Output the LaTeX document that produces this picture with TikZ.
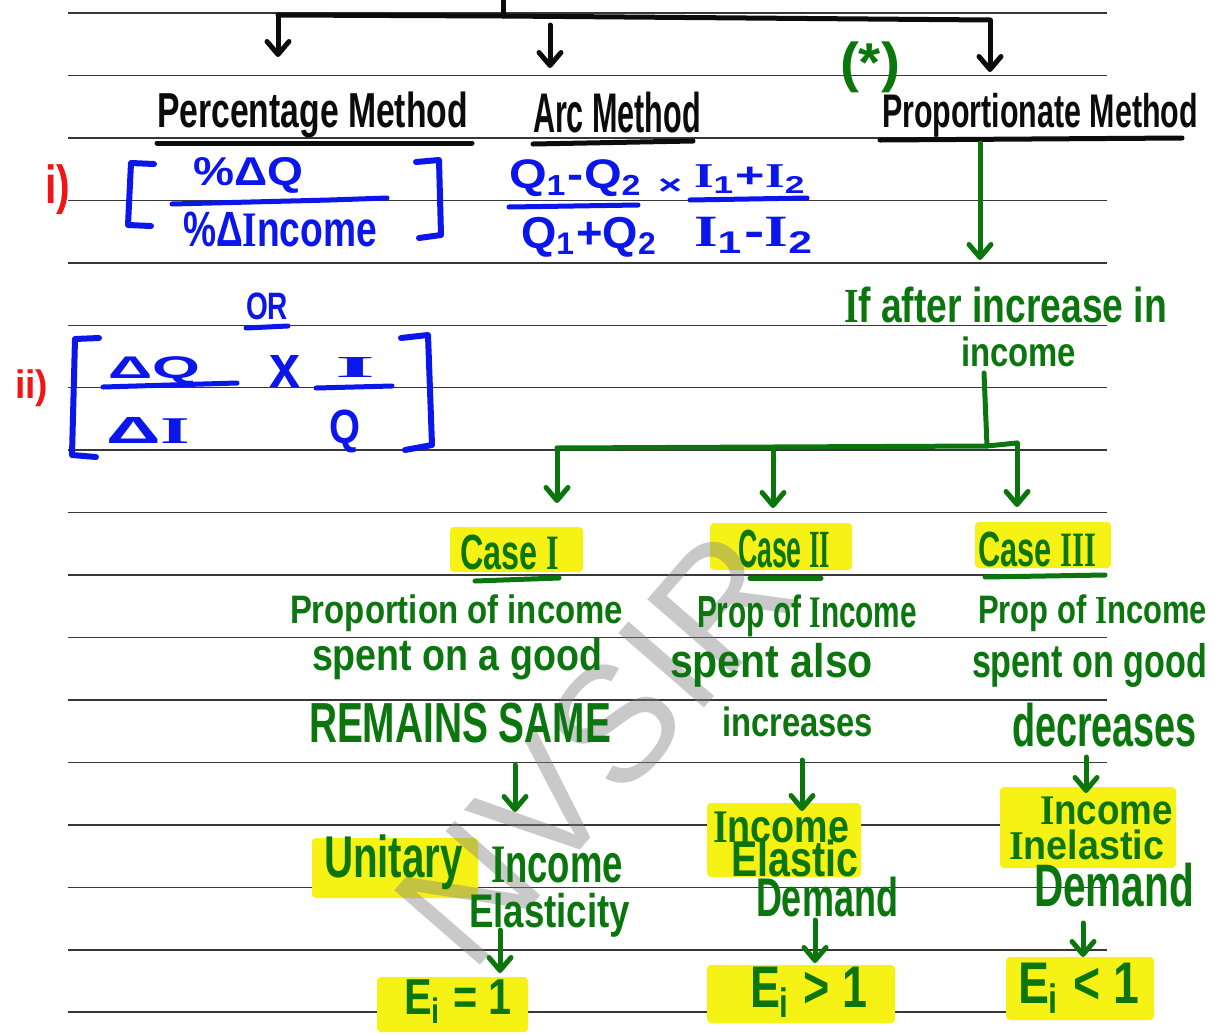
\documentclass[tikz,border=0pt]{standalone}
\usepackage{fontspec}
\usepackage{graphicx}
\usetikzlibrary{arrows.meta}
\newfontfamily\handfont{Liberation Sans}
\newfontfamily\barfont{Liberation Serif}
\newfontfamily\wmfont{Liberation Sans}
\definecolor{ink}{RGB}{12,12,12}
\definecolor{penblue}{RGB}{10,22,235}
\definecolor{pengreen}{RGB}{12,118,14}
\definecolor{penred}{RGB}{240,22,22}
\definecolor{hl}{RGB}{246,242,22}
\definecolor{rulegray}{RGB}{55,55,55}
% handwritten label squeezed into a w x h box (pt)
\newcommand\hw[3]{\resizebox*{#1pt}{#2pt}{\handfont\bfseries #3}}
% capital I written with bars
\newcommand\bI{{\barfont\bfseries I}}
\begin{document}
\begin{tikzpicture}[x=1pt,y=-1pt,
  rule/.style={draw=rulegray,line width=1.5pt},
  pen/.style={line width=5pt,line cap=round,line join=round},
  arrowpen/.style={pen,-{Straight Barb[length=13pt,width=22pt,round]}},
  lbl/.style={anchor=north west,inner sep=0pt,outer sep=0pt},
  hlbox/.style={fill=hl,rounded corners=4pt}]
\useasboundingbox (0,0) rectangle (1215,1034);
\fill[white] (0,0) rectangle (1215,1034);

% ruled paper
\foreach \k in {0,...,16}
  \draw[rule] (68,{13+62.45*\k}) -- (1107,{13+62.45*\k});

% marker highlights
\fill[hlbox] (450,527) rectangle (583,572);
\fill[hlbox] (710,523) rectangle (852,570);
\fill[hlbox] (975,522) rectangle (1111,568);
\fill[hlbox] (312,838) rectangle (478,898);
\fill[hlbox] (707,803) rectangle (861,877);
\fill[hlbox] (1000,787) rectangle (1176,868);
\fill[hlbox] (377,977) rectangle (528,1032);
\fill[hlbox] (707,965) rectangle (895,1023);
\fill[hlbox] (1006,957) rectangle (1154,1020);

% watermark
\node[rotate=49,text=gray,opacity=0.42,inner sep=0pt,
      font=\wmfont\fontsize{165}{165}\selectfont] (wm) at (594,748) {NVSIR};

% ---- three methods (black) ----
\node[lbl,text=ink] (pct)  at (157,92) {\hw{311}{46}{Percentage Method}};
\node[lbl,text=ink] (arc)  at (533,92) {\hw{168}{41}{Arc Method}};
\node[lbl,text=ink] (prop) at (882,93) {\hw{316}{44}{Proportionate Method}};
\draw[pen,ink] (157,143) -- (472,143);
\draw[pen,ink] (533,144) -- (693,141);
\draw[pen,ink] (880,140) -- (1182,138);
\node[lbl,text=pengreen] (star) at (840,42) {\hw{60}{51}{(*)}};

\coordinate (root) at (503,0);
\coordinate (rj) at (503,16);
\coordinate (bL) at (278,15);
\coordinate (bM) at (550,25);
\coordinate (bR) at (990,20);
\draw[pen,ink] (root) -- (rj);
\draw[pen,ink] (bL) -- (rj) -- (bR);
\draw[arrowpen,ink,shorten >=35pt] (bL) -- (bL |- pct.north);
\draw[arrowpen,ink,shorten >=24pt] (bM) -- (bM |- arc.north);
\draw[arrowpen,ink,shorten >=21pt] (bR) -- (bR |- prop.north);

% ---- percentage method formulas ----
\node[lbl,text=penred] (r1) at (45,165) {\hw{25}{50}{i)}};
\draw[pen,penblue,line width=6pt] (154,164) -- (131,163) -- (128,225) -- (151,226);
\node[lbl,text=penblue] (n1) at (193,157) {\hw{110}{36}{\%ΔQ}};
\draw[pen,penblue] (172,204) -- (330,200) -- (387,198);
\node[lbl,text=penblue] (d1) at (183,212) {\hw{194}{35}{\%Δ\bI ncome}};
\draw[pen,penblue,line width=6pt] (416,162) -- (439,160) -- (441,235) -- (419,238);

\node[lbl,text=penblue] (or) at (246,293) {\hw{42}{27}{OR}};
\draw[pen,penblue] (246,328) -- (288,326);

\node[lbl,text=penred] (r2) at (15,370) {\hw{33}{37}{ii)}};
\draw[pen,penblue,line width=6pt] (99,338) -- (75,339) -- (72,455) -- (96,457);
\node[lbl,text=penblue] (dq) at (108,357) {\hw{92}{28}{ΔQ}};
\draw[pen,penblue] (103,387) -- (237,383);
\node[lbl,text=penblue] (di) at (106,417) {\hw{84}{26}{Δ\bI}};
\node[lbl,text=penblue] (xx) at (269,355) {\hw{31}{32}{x}};
\node[lbl,text=penblue] (ii) at (335,357) {\hw{40}{20}{\bI}};
\draw[pen,penblue] (316,388) -- (392,386);
\node[lbl,text=penblue] (qq) at (329,410) {\hw{31}{43}{Q}};
\draw[pen,penblue,line width=6pt] (401,338) -- (428,335) -- (432,445) -- (405,450);

% ---- arc method formula ----
\node[lbl,text=penblue] (aq)  at (509,160) {\hw{134}{37}{Q\textsubscript{1}-Q\textsubscript{2}}};
\draw[pen,penblue] (509,207) -- (638,205);
\node[lbl,text=penblue] (tm)  at (658,178) {\hw{24}{16}{×}};
\node[lbl,text=penblue] (ai)  at (694,165) {\hw{113}{28}{\bI\textsubscript{1}+\bI\textsubscript{2}}};
\draw[pen,penblue] (690,200) -- (807,198);
\node[lbl,text=penblue] (aqd) at (521,217) {\hw{137}{40}{Q\textsubscript{1}+Q\textsubscript{2}}};
\node[lbl,text=penblue] (aid) at (694,217) {\hw{121}{36}{\bI\textsubscript{1}-\bI\textsubscript{2}}};

% ---- proportionate method branch (green) ----
\node[lbl,text=pengreen] (ifafter) at (844,287) {\hw{323}{36}{\bI f after increase in}};
\node[lbl,text=pengreen] (income)  at (961,337) {\hw{115}{30}{income}};
\coordinate (pdrop) at (980,143);
\draw[arrowpen,pengreen,shorten >=27pt] (pdrop) -- (pdrop |- ifafter.north);

\coordinate (gtop) at (984,373);
\coordinate (gj) at (987,446);
\coordinate (gL) at (557,448);
\coordinate (gM) at (773,448);
\coordinate (gR) at (1017,443);
\draw[pen,pengreen] (gtop) -- (gj);
\draw[pen,pengreen] (gL) -- (gj) -- (gR);

\node[lbl,text=pengreen] (c1) at (460,535) {\hw{99}{35}{Case \bI}};
\node[lbl,text=pengreen] (c2) at (738,530) {\hw{92}{38}{Case \bI\bI}};
\node[lbl,text=pengreen] (c3) at (978,532) {\hw{118}{35}{Case \bI\bI\bI}};
\draw[pen,pengreen] (475,581) -- (559,578);
\draw[pen,pengreen] (750,578) -- (821,578);
\draw[pen,pengreen] (985,577) -- (1105,575);

\draw[arrowpen,pengreen,shorten >=32pt] (gL) -- (gL |- c1.north);
\draw[arrowpen,pengreen,shorten >=22pt] (gM) -- (gM |- c2.north);
\draw[arrowpen,pengreen,shorten >=25pt] (gR) -- (gR |- c3.north);

% case descriptions
\node[lbl,text=pengreen] (p1a) at (290,595) {\hw{333}{37}{Proportion of income}};
\node[lbl,text=pengreen] (p1b) at (312,638) {\hw{290}{42}{spent on a good}};
\node[lbl,text=pengreen] (p1c) at (309,703) {\hw{302}{40}{REMAINS SAME}};
\node[lbl,text=pengreen] (p2a) at (697,595) {\hw{220}{42}{Prop of \bI ncome}};
\node[lbl,text=pengreen] (p2b) at (670,643) {\hw{203}{44}{spent also}};
\node[lbl,text=pengreen] (p2c) at (722,707) {\hw{151}{30}{increases}};
\node[lbl,text=pengreen] (p3a) at (978,595) {\hw{229}{37}{Prop of \bI ncome}};
\node[lbl,text=pengreen] (p3b) at (972,643) {\hw{235}{44}{spent on good}};
\node[lbl,text=pengreen] (p3c) at (1012,703) {\hw{185}{44}{decreases}};

% results
\node[lbl,text=pengreen] (u1) at (324,835) {\hw{139}{55}{Unitary}};
\node[lbl,text=pengreen] (u2) at (491,847) {\hw{132}{36}{\bI ncome}};
\node[lbl,text=pengreen] (u3) at (469,893) {\hw{161}{44}{Elasticity}};
\node[lbl,text=pengreen] (e1) at (404,980) {\hw{108}{43}{E\textsubscript{i} = 1}};

\node[lbl,text=pengreen] (i2a) at (713,812) {\hw{136}{31}{\bI ncome}};
\node[lbl,text=pengreen] (i2b) at (731,840) {\hw{127}{37}{Elastic}};
\node[lbl,text=pengreen] (dm2) at (756,877) {\hw{142}{40}{Demand}};
\node[lbl,text=pengreen] (e2)  at (750,967) {\hw{117}{50}{E\textsubscript{i} > 1}};

\node[lbl,text=pengreen] (i3a) at (1040,797) {\hw{133}{28}{\bI ncome}};
\node[lbl,text=pengreen] (i3b) at (1009,830) {\hw{155}{30}{\bI nelastic}};
\node[lbl,text=pengreen] (dm3) at (1034,863) {\hw{160}{44}{Demand}};
\node[lbl,text=pengreen] (e3)  at (1018,963) {\hw{121}{50}{E\textsubscript{i} < 1}};

% downward arrows between stages
\coordinate (a1) at (515,765);
\coordinate (a2) at (802,760);
\coordinate (a3) at (1086,757);
\coordinate (b1) at (500,930);
\coordinate (b2) at (815,920);
\coordinate (b3) at (1083,923);
\draw[arrowpen,pengreen,shorten >=35pt] (a1) -- (a1 |- u2.north);
\draw[arrowpen,pengreen,shorten >=1pt]  (a2) -- (a2 |- i2a.north);
\draw[arrowpen,pengreen,shorten >=4pt]  (a3) -- (a3 |- i3a.north);
\draw[arrowpen,pengreen,shorten >=7pt]  (b1) -- (b1 |- e1.north);
\draw[arrowpen,pengreen,shorten >=4pt]  (b2) -- (b2 |- e2.north);
\draw[arrowpen,pengreen,shorten >=6pt]  (b3) -- (b3 |- e3.north);
\end{tikzpicture}
\end{document}
